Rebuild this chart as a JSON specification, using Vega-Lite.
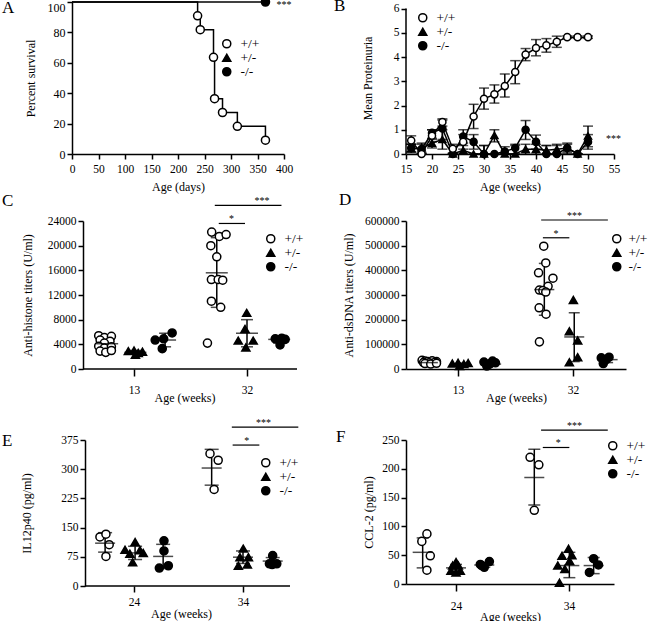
{
"$schema":"https://vega.github.io/schema/vega-lite/v6.json",
"padding":{"left":2,"top":-6,"right":0,"bottom":0},
"config":{
 "font":"Liberation Serif",
 "view":{"stroke":null},
 "axis":{"grid":false,"domainColor":"black","tickColor":"black","labelColor":"black","titleColor":"black","domainWidth":1.5,"tickWidth":1.5,"tickSize":5,"labelFontSize":11.5,"titleFontSize":12,"titleFontWeight":"normal","labelPadding":2,"titlePadding":6,"labelFont":"Liberation Serif","titleFont":"Liberation Serif","labelFlush":false,"labelOverlap":false,"tickCount":50},
 "legend":{"labelFont":"Liberation Serif","labelFontSize":13.5,"labelColor":"black","symbolSize":65,"symbolStrokeWidth":1.5,"padding":0,"rowPadding":-2,"labelOffset":7},
 "title":{"font":"Liberation Serif","fontSize":17,"fontWeight":"normal","anchor":"start","frame":"group","offset":0,"color":"black","baseline":"alphabetic"},
 "text":{"font":"Liberation Serif","fontSize":10,"color":"black"}
},
"datasets":{
 "a_line":[{"day":0,"s":100,"g":"+/+"},{"day":237,"s":90.9,"g":"+/+"},{"day":242,"s":81.8,"g":"+/+"},{"day":267,"s":63.6,"g":"+/+"},{"day":269,"s":36.4,"g":"+/+"},{"day":284,"s":27.3,"g":"+/+"},{"day":312,"s":18.2,"g":"+/+"},{"day":365,"s":9.1,"g":"+/+"},{"day":0,"s":100,"g":"-/-"},{"day":365,"s":100,"g":"-/-"}],
 "a_pts":[{"day":237,"s":90.9,"g":"+/+"},{"day":242,"s":81.8,"g":"+/+"},{"day":267,"s":63.6,"g":"+/+"},{"day":269,"s":36.4,"g":"+/+"},{"day":284,"s":27.3,"g":"+/+"},{"day":312,"s":18.2,"g":"+/+"},{"day":365,"s":9.1,"g":"+/+"},{"day":365,"s":100,"g":"-/-"}],
 "b":[
  {"w":16,"g":"+/-","m":0.22,"lo":0.05,"hi":0.4},{"w":18,"g":"+/-","m":0.25,"lo":0.05,"hi":0.45},{"w":20,"g":"+/-","m":0.45,"lo":0.25,"hi":0.65},{"w":22,"g":"+/-","m":0.6,"lo":0.2,"hi":1.0},{"w":24,"g":"+/-","m":0,"lo":0,"hi":0},{"w":26,"g":"+/-","m":0.15,"lo":0,"hi":0.35},{"w":28,"g":"+/-","m":0,"lo":0,"hi":0},{"w":30,"g":"+/-","m":0,"lo":0,"hi":0.35},{"w":32,"g":"+/-","m":0.77,"lo":0.5,"hi":1.0},{"w":34,"g":"+/-","m":0,"lo":0,"hi":0},{"w":36,"g":"+/-","m":0,"lo":0,"hi":0.35},{"w":38,"g":"+/-","m":0.2,"lo":0,"hi":0.4},{"w":40,"g":"+/-","m":0.2,"lo":0,"hi":0.4},{"w":42,"g":"+/-","m":0.15,"lo":0,"hi":0.35},{"w":44,"g":"+/-","m":0.2,"lo":0,"hi":0.4},{"w":46,"g":"+/-","m":0.25,"lo":0.05,"hi":0.4},{"w":48,"g":"+/-","m":0,"lo":0,"hi":0},{"w":50,"g":"+/-","m":0.74,"lo":0.3,"hi":1.15},
  {"w":16,"g":"-/-","m":0.25,"lo":0.1,"hi":0.4},{"w":18,"g":"-/-","m":0.2,"lo":0,"hi":0.4},{"w":20,"g":"-/-","m":0.87,"lo":0.6,"hi":1.0},{"w":22,"g":"-/-","m":1.05,"lo":0.6,"hi":1.4},{"w":24,"g":"-/-","m":0,"lo":0,"hi":0},{"w":26,"g":"-/-","m":0.72,"lo":0.45,"hi":1.0},{"w":28,"g":"-/-","m":0.5,"lo":0.2,"hi":0.8},{"w":30,"g":"-/-","m":0,"lo":0,"hi":0.35},{"w":32,"g":"-/-","m":0,"lo":0,"hi":0},{"w":34,"g":"-/-","m":0.1,"lo":0,"hi":0.3},{"w":36,"g":"-/-","m":0.25,"lo":0,"hi":0.4},{"w":38,"g":"-/-","m":1.0,"lo":0.6,"hi":1.38},{"w":40,"g":"-/-","m":0.5,"lo":0.2,"hi":0.78},{"w":42,"g":"-/-","m":0,"lo":0,"hi":0.35},{"w":44,"g":"-/-","m":0,"lo":0,"hi":0.35},{"w":46,"g":"-/-","m":0.25,"lo":0,"hi":0.45},{"w":48,"g":"-/-","m":0,"lo":0,"hi":0},{"w":50,"g":"-/-","m":0.5,"lo":0.2,"hi":0.8},
  {"w":16,"g":"+/+","m":0.56,"lo":0.4,"hi":0.75},{"w":18,"g":"+/+","m":0,"lo":0,"hi":0},{"w":20,"g":"+/+","m":0.75,"lo":0.5,"hi":1.0},{"w":22,"g":"+/+","m":1.32,"lo":1.15,"hi":1.45},{"w":24,"g":"+/+","m":0.22,"lo":0.05,"hi":0.4},{"w":26,"g":"+/+","m":0.5,"lo":0.2,"hi":0.8},{"w":28,"g":"+/+","m":1.55,"lo":1.05,"hi":2.05},{"w":30,"g":"+/+","m":2.28,"lo":1.85,"hi":2.72},{"w":32,"g":"+/+","m":2.46,"lo":2.1,"hi":2.85},{"w":34,"g":"+/+","m":2.8,"lo":2.35,"hi":3.3},{"w":36,"g":"+/+","m":3.38,"lo":2.9,"hi":3.85},{"w":38,"g":"+/+","m":4.1,"lo":3.85,"hi":4.35},{"w":40,"g":"+/+","m":4.37,"lo":4.05,"hi":4.72},{"w":42,"g":"+/+","m":4.48,"lo":4.2,"hi":4.76},{"w":44,"g":"+/+","m":4.63,"lo":4.4,"hi":4.86},{"w":46,"g":"+/+","m":4.82,"lo":4.77,"hi":4.87},{"w":48,"g":"+/+","m":4.82,"lo":4.77,"hi":4.87},{"w":50,"g":"+/+","m":4.82,"lo":4.77,"hi":4.87}],
 "c_pts":[{"x":0.75,"y":5400,"g":"+/+"},{"x":0.95,"y":5100,"g":"+/+"},{"x":1.2,"y":5300,"g":"+/+"},{"x":0.8,"y":4700,"g":"+/+"},{"x":1.15,"y":4500,"g":"+/+"},{"x":0.95,"y":4200,"g":"+/+"},{"x":0.75,"y":3700,"g":"+/+"},{"x":0.95,"y":3400,"g":"+/+"},{"x":1.2,"y":3600,"g":"+/+"},{"x":0.8,"y":2900,"g":"+/+"},{"x":1.0,"y":2700,"g":"+/+"},{"x":1.2,"y":3000,"g":"+/+"},
  {"x":1.8,"y":2900,"g":"+/-"},{"x":2.0,"y":3000,"g":"+/-"},{"x":2.15,"y":2600,"g":"+/-"},{"x":2.3,"y":2800,"g":"+/-"},{"x":2.05,"y":2300,"g":"+/-"},
  {"x":2.75,"y":4700,"g":"-/-"},{"x":3.05,"y":4900,"g":"-/-"},{"x":3.35,"y":5850,"g":"-/-"},{"x":3.0,"y":3300,"g":"-/-"},
  {"x":4.75,"y":22200,"g":"+/+"},{"x":5.02,"y":21500,"g":"+/+"},{"x":5.26,"y":21800,"g":"+/+"},{"x":4.72,"y":20000,"g":"+/+"},{"x":4.93,"y":18200,"g":"+/+"},{"x":4.74,"y":14500,"g":"+/+"},{"x":4.98,"y":14500,"g":"+/+"},{"x":5.14,"y":14400,"g":"+/+"},{"x":4.74,"y":11000,"g":"+/+"},{"x":5.07,"y":10000,"g":"+/+"},{"x":4.6,"y":4200,"g":"+/+"},
  {"x":5.99,"y":9100,"g":"+/-"},{"x":5.93,"y":6500,"g":"+/-"},{"x":5.69,"y":4600,"g":"+/-"},{"x":6.22,"y":4600,"g":"+/-"},{"x":5.96,"y":3500,"g":"+/-"},
  {"x":7.0,"y":4900,"g":"-/-"},{"x":7.23,"y":5000,"g":"-/-"},{"x":7.35,"y":4800,"g":"-/-"},{"x":7.17,"y":3900,"g":"-/-"}],
 "c_sum":[{"x":1.05,"m":4100,"lo":2900,"hi":5300},{"x":2.05,"m":2700,"lo":2400,"hi":3000},{"x":3.1,"m":4700,"lo":3600,"hi":5800},{"x":4.93,"m":15600,"lo":10000,"hi":21300},{"x":6.0,"m":5800,"lo":3600,"hi":8000},{"x":7.14,"m":4800,"lo":4200,"hi":5300}],
 "c_sig":[{"x":5.0,"x2":5.93,"y":23600,"t":"*","tx":5.45},{"x":4.86,"x2":7.22,"y":26550,"t":"***","tx":6.53}],
 "d_pts":[{"x":0.75,"y":35000,"g":"+/+"},{"x":0.85,"y":32000,"g":"+/+"},{"x":0.95,"y":30000,"g":"+/+"},{"x":1.1,"y":33000,"g":"+/+"},{"x":1.25,"y":30000,"g":"+/+"},{"x":0.8,"y":26000,"g":"+/+"},{"x":1.0,"y":25000,"g":"+/+"},{"x":1.2,"y":27000,"g":"+/+"},{"x":0.85,"y":22000,"g":"+/+"},{"x":1.05,"y":20000,"g":"+/+"},{"x":1.25,"y":23000,"g":"+/+"},
  {"x":1.8,"y":22000,"g":"+/-"},{"x":2.0,"y":25000,"g":"+/-"},{"x":2.2,"y":20000,"g":"+/-"},{"x":2.35,"y":24000,"g":"+/-"},{"x":2.05,"y":12000,"g":"+/-"},
  {"x":2.9,"y":28000,"g":"-/-"},{"x":3.1,"y":20000,"g":"-/-"},{"x":3.0,"y":12000,"g":"-/-"},{"x":3.3,"y":25000,"g":"-/-"},{"x":3.2,"y":32000,"g":"-/-"},
  {"x":4.98,"y":498000,"g":"+/+"},{"x":5.05,"y":430000,"g":"+/+"},{"x":4.8,"y":390000,"g":"+/+"},{"x":5.3,"y":368000,"g":"+/+"},{"x":5.13,"y":335000,"g":"+/+"},{"x":4.83,"y":320000,"g":"+/+"},{"x":4.95,"y":318000,"g":"+/+"},{"x":5.05,"y":312000,"g":"+/+"},{"x":4.82,"y":248000,"g":"+/+"},{"x":5.06,"y":222000,"g":"+/+"},{"x":4.83,"y":110000,"g":"+/+"},
  {"x":6.01,"y":280000,"g":"+/-"},{"x":5.87,"y":153000,"g":"+/-"},{"x":6.16,"y":116000,"g":"+/-"},{"x":6.16,"y":48000,"g":"+/-"},{"x":5.87,"y":27000,"g":"+/-"},
  {"x":6.98,"y":45000,"g":"-/-"},{"x":7.25,"y":48000,"g":"-/-"},{"x":7.05,"y":22000,"g":"-/-"},{"x":7.15,"y":38000,"g":"-/-"}],
 "d_sum":[{"x":0.95,"m":26000,"lo":21000,"hi":31000},{"x":2.1,"m":19000,"lo":13000,"hi":24000},{"x":3.15,"m":20000,"lo":12000,"hi":28000},{"x":5.0,"m":322000,"lo":218000,"hi":428000},{"x":6.04,"m":130000,"lo":30000,"hi":228000},{"x":7.2,"m":38000,"lo":26000,"hi":48000}],
 "d_sig":[{"x":4.95,"x2":5.87,"y":532000,"t":"*","tx":5.41},{"x":4.89,"x2":7.21,"y":604000,"t":"***","tx":6.05}],
 "e_pts":[{"x":0.75,"y":126,"g":"+/+"},{"x":0.97,"y":133,"g":"+/+"},{"x":1.09,"y":106,"g":"+/+"},{"x":0.97,"y":76,"g":"+/+"},
  {"x":1.67,"y":93,"g":"+/-"},{"x":2.04,"y":113,"g":"+/-"},{"x":2.22,"y":92,"g":"+/-"},{"x":1.85,"y":83,"g":"+/-"},{"x":2.34,"y":85,"g":"+/-"},{"x":1.95,"y":61,"g":"+/-"},
  {"x":3.1,"y":116,"g":"-/-"},{"x":3.1,"y":90,"g":"-/-"},{"x":3.26,"y":52,"g":"-/-"},{"x":2.93,"y":46,"g":"-/-"},
  {"x":4.79,"y":340,"g":"+/+"},{"x":5.09,"y":323,"g":"+/+"},{"x":4.94,"y":248,"g":"+/+"},
  {"x":6.01,"y":96,"g":"+/-"},{"x":5.89,"y":74,"g":"+/-"},{"x":6.2,"y":74,"g":"+/-"},{"x":5.83,"y":52,"g":"+/-"},{"x":6.16,"y":55,"g":"+/-"},
  {"x":7.09,"y":78,"g":"-/-"},{"x":6.97,"y":57,"g":"-/-"},{"x":7.24,"y":57,"g":"-/-"},{"x":7.07,"y":55,"g":"-/-"}],
 "e_sum":[{"x":0.94,"m":110,"lo":87,"hi":137},{"x":2.04,"m":85,"lo":68,"hi":102},{"x":3.07,"m":76,"lo":45,"hi":107},{"x":4.85,"m":303,"lo":259,"hi":351},{"x":6.0,"m":74,"lo":58,"hi":90},{"x":7.09,"m":64,"lo":55,"hi":73}],
 "e_sig":[{"x":5.62,"x2":6.6,"y":362,"t":"*","tx":6.14},{"x":5.59,"x2":8.03,"y":408,"t":"***","tx":6.75}],
 "f_pts":[{"x":0.97,"y":87,"g":"+/+"},{"x":0.79,"y":74,"g":"+/+"},{"x":1.09,"y":49,"g":"+/+"},{"x":0.97,"y":24,"g":"+/+"},
  {"x":2.0,"y":38,"g":"+/-"},{"x":1.88,"y":32,"g":"+/-"},{"x":2.08,"y":32,"g":"+/-"},{"x":1.82,"y":23,"g":"+/-"},{"x":2.15,"y":23,"g":"+/-"},{"x":2.0,"y":20,"g":"+/-"},
  {"x":2.91,"y":32,"g":"-/-"},{"x":3.18,"y":39,"g":"-/-"},{"x":3.0,"y":29,"g":"-/-"},{"x":2.86,"y":34,"g":"-/-"},
  {"x":4.62,"y":220,"g":"+/+"},{"x":4.93,"y":207,"g":"+/+"},{"x":4.77,"y":128,"g":"+/+"},
  {"x":5.98,"y":61,"g":"+/-"},{"x":5.75,"y":49,"g":"+/-"},{"x":6.1,"y":50,"g":"+/-"},{"x":6.02,"y":40,"g":"+/-"},{"x":5.6,"y":32,"g":"+/-"},{"x":5.85,"y":26,"g":"+/-"},{"x":5.66,"y":2,"g":"+/-"},
  {"x":6.87,"y":44,"g":"-/-"},{"x":7.04,"y":33,"g":"-/-"},{"x":6.72,"y":20,"g":"-/-"}],
 "f_sum":[{"x":0.82,"m":55,"lo":28,"hi":80},{"x":2.0,"m":28,"lo":22,"hi":34},{"x":3.0,"m":33,"lo":29,"hi":37},{"x":4.77,"m":185,"lo":137,"hi":234},{"x":6.01,"m":32,"lo":11,"hi":55},{"x":6.87,"m":32,"lo":18,"hi":46}],
 "f_sig":[{"x":5.07,"x2":6.01,"y":237,"t":"*","tx":5.62},{"x":5.01,"x2":7.37,"y":267,"t":"***","tx":6.19}]
},
"columns":2,
"align":"all",
"spacing":{"row":-2,"column":20},
"resolve":{"scale":{"shape":"independent","fill":"independent"},"legend":{"shape":"independent","fill":"independent"}},
"concat":[
 {"width":212,"height":152,"title":{"text":"A","dx":-70,"dy":26},
  "layer":[
   {"data":{"name":"a_line"},"mark":{"type":"line","interpolate":"step-after","color":"black","strokeWidth":1.5},
    "encoding":{"x":{"field":"day","type":"quantitative","scale":{"domain":[0,400],"nice":false},"axis":{"values":[0,50,100,150,200,250,300,350,400],"tickCount":50,"labelOverlap":false,"title":"Age (days)","labelPadding":4,"titlePadding":7}},
     "y":{"field":"s","type":"quantitative","scale":{"domain":[0,100],"nice":false},"axis":{"values":[0,20,40,60,80,100],"tickCount":50,"labelOverlap":false,"labelBaseline":{"expr":"datum.value == 100 ? 'top' : 'middle'"},"title":"Percent survival","labelFontSize":12,"titlePadding":10}},
     "detail":{"field":"g"}}},
   {"data":{"name":"a_pts"},"mark":{"type":"point","filled":true,"stroke":"black","strokeWidth":1.5,"size":65,"opacity":1},
    "encoding":{"x":{"field":"day","type":"quantitative"},"y":{"field":"s","type":"quantitative"},
     "shape":{"field":"g","type":"nominal","scale":{"domain":["+/+","+/-","-/-"],"range":["circle","triangle-up","circle"]},"legend":{"title":null,"orient":"none","legendX":148,"legendY":35,"encode":{"symbols":{"stroke":{"value":"black"},"strokeWidth":{"value":1.5}}}}},
     "fill":{"field":"g","type":"nominal","scale":{"domain":["+/+","+/-","-/-"],"range":["white","black","black"]},"legend":{"title":null,"orient":"none","legendX":148,"legendY":35,"encode":{"symbols":{"stroke":{"value":"black"},"strokeWidth":{"value":1.5}}}}}}},
   {"data":{"values":[{"x":400,"y":100,"t":"***"}]},"mark":{"type":"text","baseline":"middle","dy":3},"encoding":{"x":{"field":"x","type":"quantitative"},"y":{"field":"y","type":"quantitative"},"text":{"field":"t"}}}
  ]},
 {"width":208,"height":152,"title":{"text":"B","dx":-72,"dy":17},
  "layer":[
   {"data":{"values":[{}]},"mark":{"type":"rule","color":"black","strokeWidth":1.5},
    "encoding":{"x":{"datum":15,"type":"quantitative","scale":{"domain":[15,55],"nice":false},"axis":{"values":[15,20,25,30,35,40,45,50,55],"tickCount":50,"labelOverlap":false,"format":"d","title":"Age (weeks)","labelPadding":4,"titlePadding":7}},
     "y":{"datum":0,"type":"quantitative","scale":{"domain":[0,6.27],"nice":false},"axis":{"values":[0,1,2,3,4,5,6],"tickCount":50,"labelOverlap":false,"format":"d","domain":false,"title":"Mean Proteinuria","titlePadding":19}},
     "y2":{"datum":6}}},
   {"data":{"name":"b"},"mark":{"type":"rule","color":"black","strokeWidth":1.5},"encoding":{"x":{"field":"w","type":"quantitative"},"y":{"field":"lo","type":"quantitative"},"y2":{"field":"hi"}}},
   {"data":{"name":"b"},"mark":{"type":"tick","orient":"horizontal","size":10,"thickness":1.5,"color":"black"},"encoding":{"x":{"field":"w","type":"quantitative"},"y":{"field":"lo","type":"quantitative"}}},
   {"data":{"name":"b"},"mark":{"type":"tick","orient":"horizontal","size":10,"thickness":1.5,"color":"black"},"encoding":{"x":{"field":"w","type":"quantitative"},"y":{"field":"hi","type":"quantitative"}}},
   {"data":{"name":"b"},"mark":{"type":"line","color":"black","strokeWidth":1.5},"encoding":{"x":{"field":"w","type":"quantitative"},"y":{"field":"m","type":"quantitative"},"detail":{"field":"g"}}},
   {"data":{"name":"b"},"mark":{"type":"point","filled":true,"stroke":"black","strokeWidth":1.5,"size":50,"opacity":1},
    "encoding":{"x":{"field":"w","type":"quantitative"},"y":{"field":"m","type":"quantitative"},
     "shape":{"field":"g","type":"nominal","scale":{"domain":["+/+","+/-","-/-"],"range":["circle","triangle-up","circle"]},"legend":{"title":null,"orient":"none","legendX":10,"legendY":9,"encode":{"symbols":{"stroke":{"value":"black"},"strokeWidth":{"value":1.5}}}}},
     "fill":{"field":"g","type":"nominal","scale":{"domain":["+/+","+/-","-/-"],"range":["white","black","black"]},"legend":{"title":null,"orient":"none","legendX":10,"legendY":9,"encode":{"symbols":{"stroke":{"value":"black"},"strokeWidth":{"value":1.5}}}}}}},
   {"data":{"values":[{"x":54.9,"y":0.7,"t":"***"}]},"mark":{"type":"text","baseline":"middle","dy":2},"encoding":{"x":{"field":"x","type":"quantitative"},"y":{"field":"y","type":"quantitative"},"text":{"field":"t"}}}
  ]},
 {"width":225,"height":148,"title":{"text":"C","dx":-70,"dy":18},
  "layer":[
   {"data":{"values":[{}]},"mark":{"type":"rule","color":"black","strokeWidth":1.5},
    "encoding":{"x":{"datum":0.195,"type":"quantitative","scale":{"domain":[-0.195,7.77],"nice":false,"zero":false},"axis":{"values":[2,6],"tickCount":50,"labelExpr":"datum.value == 2 ? '13' : '32'","domain":false,"title":"Age (weeks)","tickSize":7,"labelPadding":8,"titlePadding":-3}},
     "x2":{"datum":7.77},
     "y":{"datum":0,"type":"quantitative","scale":{"domain":[0,24000],"nice":false},"axis":{"values":[0,4000,8000,12000,16000,20000,24000],"tickCount":50,"labelOverlap":false,"format":"d","title":"Anti-histone titers (U/ml)","offset":-11,"titlePadding":13}}}},
   {"data":{"name":"c_sum"},"mark":{"type":"rule","color":"black","strokeWidth":1.5},"encoding":{"x":{"field":"x","type":"quantitative"},"y":{"field":"lo","type":"quantitative"},"y2":{"field":"hi"}}},
   {"data":{"name":"c_sum"},"mark":{"type":"tick","orient":"horizontal","size":12,"thickness":1.5,"color":"black"},"encoding":{"x":{"field":"x","type":"quantitative"},"y":{"field":"lo","type":"quantitative"}}},
   {"data":{"name":"c_sum"},"mark":{"type":"tick","orient":"horizontal","size":12,"thickness":1.5,"color":"black"},"encoding":{"x":{"field":"x","type":"quantitative"},"y":{"field":"hi","type":"quantitative"}}},
   {"data":{"name":"c_pts"},"mark":{"type":"point","filled":true,"stroke":"black","strokeWidth":1.5,"size":65,"opacity":1},
    "encoding":{"x":{"field":"x","type":"quantitative"},"y":{"field":"y","type":"quantitative"},
     "shape":{"field":"g","type":"nominal","scale":{"domain":["+/+","+/-","-/-"],"range":["circle","triangle-up","circle"]},"legend":{"title":null,"orient":"none","legendX":192,"legendY":11,"encode":{"symbols":{"stroke":{"value":"black"},"strokeWidth":{"value":1.5}}}}},
     "fill":{"field":"g","type":"nominal","scale":{"domain":["+/+","+/-","-/-"],"range":["white","black","black"]},"legend":{"title":null,"orient":"none","legendX":192,"legendY":11,"encode":{"symbols":{"stroke":{"value":"black"},"strokeWidth":{"value":1.5}}}}}}},
   {"data":{"name":"c_sum"},"mark":{"type":"tick","orient":"horizontal","size":22,"thickness":1.5,"color":"black"},"encoding":{"x":{"field":"x","type":"quantitative"},"y":{"field":"m","type":"quantitative"}}},
   {"data":{"name":"c_sig"},"mark":{"type":"rule","color":"black","strokeWidth":1.2},"encoding":{"x":{"field":"x","type":"quantitative"},"x2":{"field":"x2"},"y":{"field":"y","type":"quantitative"}}},
   {"data":{"name":"c_sig"},"mark":{"type":"text","baseline":"middle","dy":-4},"encoding":{"x":{"field":"tx","type":"quantitative"},"y":{"field":"y","type":"quantitative"},"text":{"field":"t"}}}
  ]},
 {"width":220,"height":148,"title":{"text":"D","dx":-67,"dy":2},
  "layer":[
   {"data":{"name":"d_sum"},"mark":{"type":"rule","color":"black","strokeWidth":1.5},
    "encoding":{"x":{"field":"x","type":"quantitative","scale":{"domain":[0.19,7.84],"nice":false,"zero":false},"axis":{"values":[2,6],"tickCount":50,"labelExpr":"datum.value == 2 ? '13' : '32'","title":"Age (weeks)","tickSize":7,"labelPadding":8,"titlePadding":-3}},
     "y":{"field":"lo","type":"quantitative","scale":{"domain":[0,600000],"nice":false},"axis":{"values":[0,100000,200000,300000,400000,500000,600000],"tickCount":50,"labelOverlap":false,"format":"d","title":"Anti-dsDNA titers (U/ml)","titlePadding":9}},
     "y2":{"field":"hi"}}},
   {"data":{"name":"d_sum"},"mark":{"type":"tick","orient":"horizontal","size":11,"thickness":1.5,"color":"black"},"encoding":{"x":{"field":"x","type":"quantitative"},"y":{"field":"lo","type":"quantitative"}}},
   {"data":{"name":"d_sum"},"mark":{"type":"tick","orient":"horizontal","size":11,"thickness":1.5,"color":"black"},"encoding":{"x":{"field":"x","type":"quantitative"},"y":{"field":"hi","type":"quantitative"}}},
   {"data":{"name":"d_pts"},"mark":{"type":"point","filled":true,"stroke":"black","strokeWidth":1.5,"size":65,"opacity":1},
    "encoding":{"x":{"field":"x","type":"quantitative"},"y":{"field":"y","type":"quantitative"},
     "shape":{"field":"g","type":"nominal","scale":{"domain":["+/+","+/-","-/-"],"range":["circle","triangle-up","circle"]},"legend":{"title":null,"orient":"none","legendX":204,"legendY":11,"labelOffset":5,"encode":{"symbols":{"stroke":{"value":"black"},"strokeWidth":{"value":1.5}}}}},
     "fill":{"field":"g","type":"nominal","scale":{"domain":["+/+","+/-","-/-"],"range":["white","black","black"]},"legend":{"title":null,"orient":"none","legendX":204,"legendY":11,"labelOffset":5,"encode":{"symbols":{"stroke":{"value":"black"},"strokeWidth":{"value":1.5}}}}}}},
   {"data":{"name":"d_sum"},"mark":{"type":"tick","orient":"horizontal","size":20,"thickness":1.5,"color":"black"},"encoding":{"x":{"field":"x","type":"quantitative"},"y":{"field":"m","type":"quantitative"}}},
   {"data":{"name":"d_sig"},"mark":{"type":"rule","color":"black","strokeWidth":1.2},"encoding":{"x":{"field":"x","type":"quantitative"},"x2":{"field":"x2"},"y":{"field":"y","type":"quantitative"}}},
   {"data":{"name":"d_sig"},"mark":{"type":"text","baseline":"middle","dy":-4},"encoding":{"x":{"field":"tx","type":"quantitative"},"y":{"field":"y","type":"quantitative"},"text":{"field":"t"}}}
  ]},
 {"width":218,"height":146,"title":{"text":"E","dx":-70,"dy":36},
  "layer":[
   {"data":{"values":[{}]},"mark":{"type":"rule","color":"black","strokeWidth":1.5},
    "encoding":{"x":{"datum":0.2,"type":"quantitative","scale":{"domain":[-0.275,7.725],"nice":false,"zero":false},"axis":{"values":[2,6],"tickCount":50,"labelExpr":"datum.value == 2 ? '24' : '34'","domain":false,"title":"Age (weeks)","tickSize":6,"labelPadding":4,"titlePadding":1}},
     "x2":{"datum":7.725},
     "y":{"datum":0,"type":"quantitative","scale":{"domain":[0,375],"nice":false},"axis":{"values":[0,75,150,225,300,375],"tickCount":50,"labelOverlap":false,"title":"IL12p40 (pg/ml)","offset":-13,"titlePadding":27}}}},
   {"data":{"name":"e_sum"},"mark":{"type":"rule","color":"black","strokeWidth":1.5},"encoding":{"x":{"field":"x","type":"quantitative"},"y":{"field":"lo","type":"quantitative"},"y2":{"field":"hi"}}},
   {"data":{"name":"e_sum"},"mark":{"type":"tick","orient":"horizontal","size":14,"thickness":1.5,"color":"black"},"encoding":{"x":{"field":"x","type":"quantitative"},"y":{"field":"lo","type":"quantitative"}}},
   {"data":{"name":"e_sum"},"mark":{"type":"tick","orient":"horizontal","size":14,"thickness":1.5,"color":"black"},"encoding":{"x":{"field":"x","type":"quantitative"},"y":{"field":"hi","type":"quantitative"}}},
   {"data":{"name":"e_pts"},"mark":{"type":"point","filled":true,"stroke":"black","strokeWidth":1.5,"size":65,"opacity":1},
    "encoding":{"x":{"field":"x","type":"quantitative"},"y":{"field":"y","type":"quantitative"},
     "shape":{"field":"g","type":"nominal","scale":{"domain":["+/+","+/-","-/-"],"range":["circle","triangle-up","circle"]},"legend":{"title":null,"orient":"none","legendX":187,"legendY":16,"encode":{"symbols":{"stroke":{"value":"black"},"strokeWidth":{"value":1.5}}}}},
     "fill":{"field":"g","type":"nominal","scale":{"domain":["+/+","+/-","-/-"],"range":["white","black","black"]},"legend":{"title":null,"orient":"none","legendX":187,"legendY":16,"encode":{"symbols":{"stroke":{"value":"black"},"strokeWidth":{"value":1.5}}}}}}},
   {"data":{"name":"e_sum"},"mark":{"type":"tick","orient":"horizontal","size":20,"thickness":1.5,"color":"black"},"encoding":{"x":{"field":"x","type":"quantitative"},"y":{"field":"m","type":"quantitative"}}},
   {"data":{"name":"e_sig"},"mark":{"type":"rule","color":"black","strokeWidth":1.2},"encoding":{"x":{"field":"x","type":"quantitative"},"x2":{"field":"x2"},"y":{"field":"y","type":"quantitative"}}},
   {"data":{"name":"e_sig"},"mark":{"type":"text","baseline":"middle","dy":-4},"encoding":{"x":{"field":"tx","type":"quantitative"},"y":{"field":"y","type":"quantitative"},"text":{"field":"t"}}}
  ]},
 {"width":208,"height":144,"title":{"text":"F","dx":-70,"dy":29},
  "layer":[
   {"data":{"name":"f_sum"},"mark":{"type":"rule","color":"black","strokeWidth":1.5},
    "encoding":{"x":{"field":"x","type":"quantitative","scale":{"domain":[0.23,7.59],"nice":false,"zero":false},"axis":{"values":[2,6],"tickCount":50,"labelExpr":"datum.value == 2 ? '24' : '34'","title":"Age (weeks)","tickSize":7,"labelPadding":9,"titlePadding":0}},
     "y":{"field":"lo","type":"quantitative","scale":{"domain":[0,250],"nice":false},"axis":{"values":[0,50,100,150,200,250],"tickCount":50,"labelOverlap":false,"title":"CCL-2 (pg/ml)","titlePadding":6}},
     "y2":{"field":"hi"}}},
   {"data":{"name":"f_sum"},"mark":{"type":"tick","orient":"horizontal","size":12,"thickness":1.5,"color":"black"},"encoding":{"x":{"field":"x","type":"quantitative"},"y":{"field":"lo","type":"quantitative"}}},
   {"data":{"name":"f_sum"},"mark":{"type":"tick","orient":"horizontal","size":12,"thickness":1.5,"color":"black"},"encoding":{"x":{"field":"x","type":"quantitative"},"y":{"field":"hi","type":"quantitative"}}},
   {"data":{"name":"f_pts"},"mark":{"type":"point","filled":true,"stroke":"black","strokeWidth":1.5,"size":65,"opacity":1},
    "encoding":{"x":{"field":"x","type":"quantitative"},"y":{"field":"y","type":"quantitative"},
     "shape":{"field":"g","type":"nominal","scale":{"domain":["+/+","+/-","-/-"],"range":["circle","triangle-up","circle"]},"legend":{"title":null,"orient":"none","legendX":200,"legendY":-1,"encode":{"symbols":{"stroke":{"value":"black"},"strokeWidth":{"value":1.5}}}}},
     "fill":{"field":"g","type":"nominal","scale":{"domain":["+/+","+/-","-/-"],"range":["white","black","black"]},"legend":{"title":null,"orient":"none","legendX":200,"legendY":-1,"encode":{"symbols":{"stroke":{"value":"black"},"strokeWidth":{"value":1.5}}}}}}},
   {"data":{"name":"f_sum"},"mark":{"type":"tick","orient":"horizontal","size":20,"thickness":1.5,"color":"black"},"encoding":{"x":{"field":"x","type":"quantitative"},"y":{"field":"m","type":"quantitative"}}},
   {"data":{"name":"f_sig"},"mark":{"type":"rule","color":"black","strokeWidth":1.2},"encoding":{"x":{"field":"x","type":"quantitative"},"x2":{"field":"x2"},"y":{"field":"y","type":"quantitative"}}},
   {"data":{"name":"f_sig"},"mark":{"type":"text","baseline":"middle","dy":-4},"encoding":{"x":{"field":"tx","type":"quantitative"},"y":{"field":"y","type":"quantitative"},"text":{"field":"t"}}}
  ]}
]
}
